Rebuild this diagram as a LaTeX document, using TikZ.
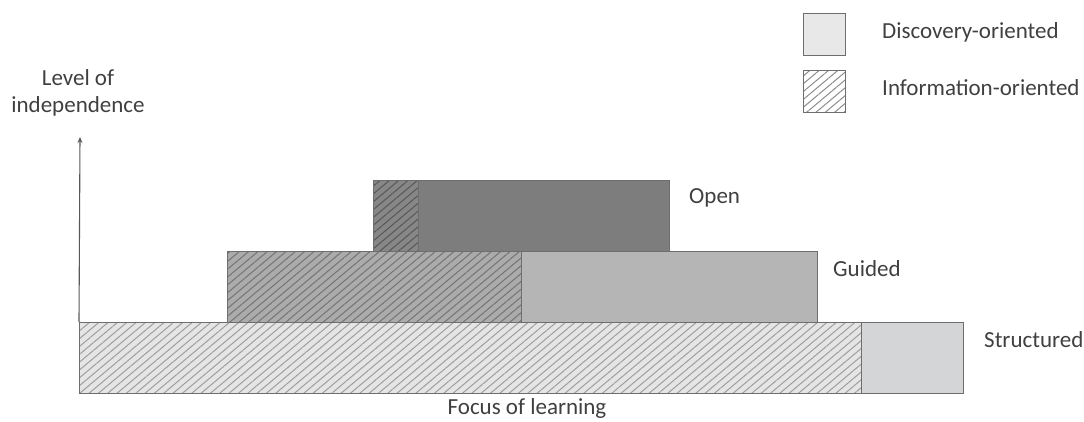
\documentclass[tikz,border=0pt]{standalone}
\usepackage{fontspec}
\setmainfont{Carlito}
\usetikzlibrary{arrows.meta,patterns.meta}

\definecolor{txtgray}{HTML}{404040}
\definecolor{edgegray}{HTML}{6E6E6E}
\definecolor{structplain}{HTML}{D3D5D7}

\tikzset{
  box/.style={rectangle,draw=edgegray,line width=1.3pt,inner sep=0pt,anchor=north west},
  plainbox/.style={box,fill=#1},
  hatchbox/.style 2 args={box,preaction={fill=#1},
    pattern={Lines[angle=40,distance=6pt,line width=1pt]},pattern color=#2},
  lbl/.style={text=txtgray,font=\fontsize{23}{27}\selectfont,inner sep=0pt}
}

\begin{document}
\begin{tikzpicture}[x=1pt,y=-1pt]
  \useasboundingbox (0,0) rectangle (1084,421);

  % structured
  \node (s1) [hatchbox={black!10}{black!38},minimum width=782,minimum height=71] at (79,322) {};
  \node (s2) [plainbox=structplain,minimum width=102,minimum height=71] at (861,322) {};

  % guided
  \node (g1) [hatchbox={black!33}{black!55},minimum width=294,minimum height=71] at (227,251) {};
  \node (g2) [plainbox=black!29,minimum width=296,minimum height=71] at (521,251) {};

  % open
  \node (o1) [hatchbox={black!47}{black!66},minimum width=45,minimum height=71] at (373,180) {};
  \node (o2) [plainbox=black!51,minimum width=251,minimum height=71] at (418,180) {};

  \node (lo) [lbl,anchor=west] at (689,198) {Open};
  \node (lg) [lbl,anchor=west] at (833,269) {Guided};
  \node (ls) [lbl,anchor=west] at (984,340) {Structured};

  % axes
  \coordinate (top) at (80,137);
  \draw[edgegray!80!black,line width=1.1pt,-{Stealth[length=6pt,width=5pt]}] (s1.north west) -- (top);
  \node (ylab) [lbl,align=center] at (78,93) {Level of\\independence};
  \node (xlab) [lbl] at (527,408) {Focus of learning};

  % legend
  \node (k1) [plainbox=black!9,minimum width=42,minimum height=42] at (803,13) {};
  \node (k2) [hatchbox={white}{black!45},minimum width=42,minimum height=42] at (803,70) {};
  \node (t1) [lbl,anchor=west] at (882,32) {Discovery-oriented};
  \node (t2) [lbl,anchor=west] at (882,88) {Information-oriented};
\end{tikzpicture}
\end{document}
